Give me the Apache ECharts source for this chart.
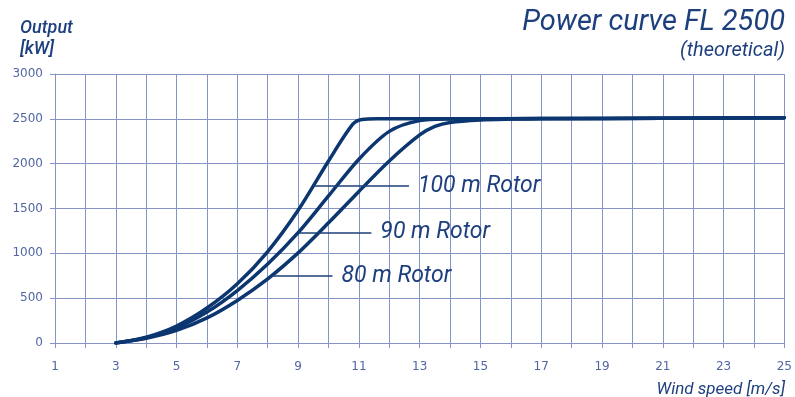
<!DOCTYPE html>
<html><head><meta charset="utf-8">
<script src="https://cdn.jsdelivr.net/npm/echarts@6/dist/echarts.min.js"></script>
<style>html,body{margin:0;padding:0;background:#fff}#c{width:795px;height:397px}</style>
</head><body><div id="c"></div>
<script>
var xTicks = [1,3,5,7,9,11,13,15,17,19,21,23,25];
var yTicks = [0,500,1000,1500,2000,2500,3000];

var speed100 = [3,4,5,6,7,8,9,10,10.8,11.1,11.6,12.5,14,17,21,25];
var power100 = [0,65,190,390,660,1020,1480,2030,2440,2493,2500,2500,2500,2503,2507,2512];

var speed90 = [3,4,5,6,7,8,9,10,11,12,13,14,15,17,21,25];
var power90 = [0,58,168,345,585,880,1230,1640,2050,2360,2480,2498,2500,2503,2507,2512];

var speed80 = [3,4,5,6,7,8,9,10,11,12,13,13.5,14,15,16,17,21,25];
var power80 = [0,52,140,280,475,715,1005,1340,1690,2030,2320,2415,2460,2488,2497,2501,2507,2512];

// leader lines: [startSpeed, endSpeed, power, label]
var lead100 = [9.5, 12.65, 1751, '100 m Rotor'];
var lead90 = [9.02, 11.41, 1230, '90 m Rotor'];
var lead80 = [8.12, 10.13, 747, '80 m Rotor'];

function zip(a,b){return a.map(function(v,i){return [v,b[i]];});}
var navy = '#0c3670';
var gridCol = '#8593c5';
var labCol = '#5166a3';
var txtCol = '#1d3f7e';
var FF = 'Roboto, "Open Sans", sans-serif';

function mk(lead){
  return {
    silent:true, symbol:['none','none'],
    lineStyle:{color:'#1a3f78', width:1.6, type:'solid'},
    label:{show:true, position:'end', distance:9, formatter:lead[3], color:txtCol,
      fontSize:23, fontStyle:'italic', fontFamily:FF},
    data:[[{coord:[lead[0],lead[2]]},{coord:[lead[1],lead[2]]}]]
  };
}
function ser(name, s, p, lead){
  return {type:'line', name:name, data:zip(s,p), showSymbol:false, smooth:0.3,
    lineStyle:{color:navy, width:3.5, cap:'round', join:'round'}, itemStyle:{color:navy},
    markLine:mk(lead), z:3};
}

var chart = echarts.init(document.getElementById('c'), null, {renderer:'canvas'});
chart.setOption({
  animation:false,
  grid:{left:55, right:9, top:74, bottom:54, containLabel:false},
  title:[
    {text:'Power curve FL 2500', right:5, top:3, textStyle:{color:txtCol, fontSize:29, fontStyle:'italic', fontWeight:'normal', fontFamily:FF}},
    {text:'(theoretical)', right:5, top:36, textStyle:{color:txtCol, fontSize:20, fontStyle:'italic', fontWeight:'normal', fontFamily:FF}},
    {text:'Output', left:15, top:14, textStyle:{color:txtCol, fontSize:18, fontStyle:'italic', fontWeight:500, fontFamily:FF}},
    {text:'[kW]', left:15, top:35, textStyle:{color:txtCol, fontSize:18, fontStyle:'italic', fontWeight:500, fontFamily:FF}},
    {text:'Wind speed [m/s]', right:5, top:376, textStyle:{color:txtCol, fontSize:17, fontStyle:'italic', fontWeight:'normal', fontFamily:FF}}
  ],
  xAxis:{type:'value', min:1, max:25, interval:1,
    axisLine:{show:true, lineStyle:{color:gridCol, width:1}},
    axisTick:{show:true, length:5, lineStyle:{color:gridCol}},
    splitLine:{show:true, lineStyle:{color:gridCol, width:1}},
    axisLabel:{color:labCol, fontSize:12, fontFamily:'"DejaVu Sans", sans-serif', margin:18,
      formatter:function(v){return xTicks.indexOf(v)>=0 ? String(v) : '';}}
  },
  yAxis:{type:'value', min:0, max:3000, interval:500,
    axisLine:{show:true, lineStyle:{color:gridCol, width:1}},
    axisTick:{show:true, length:5, lineStyle:{color:gridCol}},
    splitLine:{show:true, lineStyle:{color:gridCol, width:1}},
    axisLabel:{color:labCol, fontSize:12, fontFamily:'"DejaVu Sans", sans-serif', margin:12,
      formatter:function(v){return yTicks.indexOf(v)>=0 ? String(v) : '';}}
  },
  series:[
    ser('80 m Rotor', speed80, power80, lead80),
    ser('90 m Rotor', speed90, power90, lead90),
    ser('100 m Rotor', speed100, power100, lead100)
  ]
});
</script></body></html>
